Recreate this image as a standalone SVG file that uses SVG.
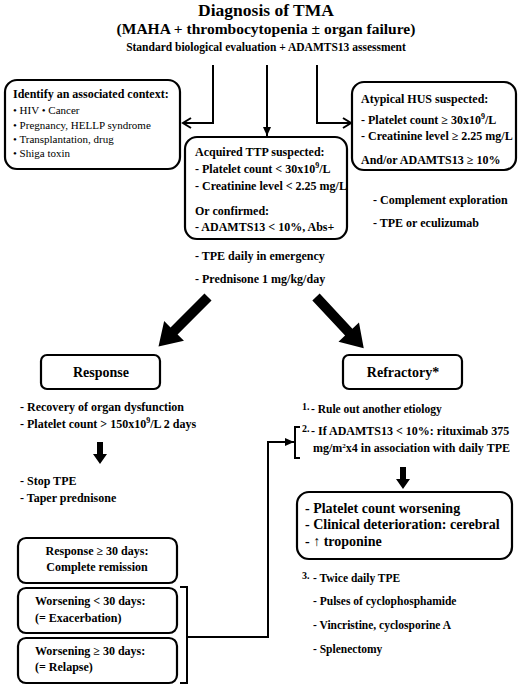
<svg xmlns="http://www.w3.org/2000/svg" width="520" height="686" viewBox="0 0 520 686">
<style>
text{font-family:"Liberation Serif","Times New Roman",serif;font-weight:bold;fill:#000}
.box{fill:#fff;stroke:#000;stroke-width:2.2}
.ln{fill:none;stroke:#000;stroke-width:2}
.t12{font-size:12px}
.t11{font-size:11px}
.t115{font-size:11.5px}
.t14{font-size:14px}
.c{text-anchor:middle}
.sm{font-size:10px}
.reg{font-weight:normal}
</style>
<defs>
<marker id="open" markerWidth="12" markerHeight="12" refX="10" refY="6" orient="auto" markerUnits="userSpaceOnUse">
<path d="M2,1 L10,6 L2,11" fill="none" stroke="#000" stroke-width="2"/>
</marker>
<marker id="solid" markerWidth="10" markerHeight="10" refX="9" refY="5" orient="auto" markerUnits="userSpaceOnUse">
<path d="M0,1 L9,5 L0,9 Z" fill="#000"/>
</marker>
<polygon id="bigarrow" points="0,-5 48,-5 48,-14 70,0 48,14 48,5 0,5" fill="#000"/>
<polygon id="downarrow" points="-3,0 3,0 3,12 7,12 0,22 -7,12 -3,12" fill="#000"/>
</defs>

<g id="title">
<text x="266" y="16" class="c" font-size="17.5">Diagnosis of TMA</text>
<text x="266" y="34" class="c" font-size="15.5">(MAHA + thrombocytopenia  ± organ failure)</text>
<text x="266" y="51" class="c t115">Standard  biological  evaluation  + ADAMTS13 assessment</text>
</g>

<g id="connectors">
<path class="ln" d="M213,65 V123 H183" marker-end="url(#open)"/>
<path class="ln" d="M267,65 V136" marker-end="url(#solid)"/>
<path class="ln" d="M317,65 V123 H351" marker-end="url(#open)"/>
<use href="#bigarrow" transform="translate(208,297) rotate(135)"/>
<use href="#bigarrow" transform="translate(316,297) rotate(47)"/>
<use href="#downarrow" transform="translate(100,442)"/>
<use href="#downarrow" transform="translate(403,467)"/>
<path class="ln" d="M180,587 H187 V683 H180"/>
<path class="ln" d="M187,637 H268 V442 H294" marker-end="url(#solid)"/>
<path class="ln" d="M300,427 H295 V458 H300"/>
</g>

<g id="context">
<rect class="box" x="5" y="80" width="175" height="89" rx="12"/>
<text x="13" y="98" class="t12">Identify  an  associated  context:</text>
<text x="13" y="114" class="t11 reg">• HIV   • Cancer</text>
<text x="13" y="129" class="t11 reg">• Pregnancy,  HELLP  syndrome</text>
<text x="13" y="143" class="t11 reg">• Transplantation,  drug</text>
<text x="13" y="157" class="t11 reg">• Shiga  toxin</text>
</g>

<g id="ttp">
<rect class="box" x="185" y="137" width="162" height="102" rx="12"/>
<text x="195" y="156" class="t12">Acquired  TTP  suspected:</text>
<text x="195" y="173" class="t12">- Platelet  count  &lt; 30x10<tspan font-size="8" dy="-5">9</tspan><tspan dy="5">/L</tspan></text>
<text x="195" y="190" class="t12">- Creatinine  level &lt; 2.25 mg/L</text>
<text x="195" y="215" class="t12">Or  confirmed:</text>
<text x="195" y="231" class="t12">- ADAMTS13  &lt; 10%, Abs+</text>
</g>

<g id="ttp-treatment">
<text x="195" y="260" class="t12">- TPE  daily  in  emergency</text>
<text x="195" y="283" class="t12">- Prednisone  1 mg/kg/day</text>
</g>

<g id="ahus">
<rect class="box" x="352" y="82" width="164" height="88" rx="12"/>
<text x="361" y="103" class="t12">Atypical  HUS  suspected:</text>
<text x="361" y="124" class="t12">- Platelet  count ≥ 30x10<tspan font-size="8" dy="-5">9</tspan><tspan dy="5">/L</tspan></text>
<text x="361" y="140" class="t12">- Creatinine  level ≥ 2.25 mg/L</text>
<text x="361" y="164" class="t12">And/or  ADAMTS13 ≥ 10%</text>
</g>

<g id="ahus-treatment">
<text x="373" y="204" class="t12">- Complement  exploration</text>
<text x="373" y="227" class="t12">- TPE  or  eculizumab</text>
</g>

<g id="response">
<rect class="box" x="41" y="355" width="119" height="34" rx="6"/>
<text x="101" y="377" class="c t14">Response</text>
</g>

<g id="refractory">
<rect class="box" x="343" y="355" width="119" height="34" rx="6"/>
<text x="403" y="377" class="c t14">Refractory*</text>
</g>

<g id="response-criteria">
<text x="20" y="411" class="t12">- Recovery of organ  dysfunction</text>
<text x="20" y="428" class="t12">- Platelet count  &gt; 150x10<tspan font-size="8" dy="-5">9</tspan><tspan dy="5">/L 2 days</tspan></text>
</g>

<g id="response-treatment">
<text x="20" y="485" class="t12">- Stop  TPE</text>
<text x="20" y="502" class="t12">- Taper  prednisone</text>
</g>

<g id="refractory-steps">
<text x="302" y="410" class="sm">1.</text>
<text x="311" y="413" class="t115">- Rule  out  another  etiology</text>
<text x="302" y="432" class="sm">2.</text>
<text x="311" y="435" class="t12">- If ADAMTS13 &lt; 10%:  rituximab  375</text>
<text x="313" y="452" class="t12">mg/m<tspan font-size="7" dy="-4">2</tspan><tspan dy="4">x4  in  association  with  daily  TPE</tspan></text>
</g>

<g id="worsening">
<rect class="box" x="297" y="492" width="215" height="67" rx="12"/>
<text x="305" y="513" font-size="14">- Platelet count worsening</text>
<text x="305" y="529" font-size="14">- Clinical deterioration: cerebral</text>
<text x="305" y="546" font-size="14">- ↑ troponine</text>
</g>

<g id="step3">
<text x="302" y="579" class="sm">3.</text>
<text x="313" y="582" class="t115">- Twice  daily  TPE</text>
<text x="313" y="605" class="t115">- Pulses of cyclophosphamide</text>
<text x="313" y="629" class="t115">- Vincristine,  cyclosporine  A</text>
<text x="313" y="653" class="t115">- Splenectomy</text>
</g>

<g id="remission">
<rect class="box" x="18" y="538" width="159" height="45" rx="8"/>
<text x="97" y="555" class="c t12">Response ≥ 30 days:</text>
<text x="97" y="571" class="c t12">Complete remission</text>
</g>

<g id="exacerbation">
<rect class="box" x="18" y="588" width="159" height="45" rx="8"/>
<text x="35" y="605" class="t12">Worsening &lt; 30 days:</text>
<text x="35" y="622" class="t12">(= Exacerbation)</text>
</g>

<g id="relapse">
<rect class="box" x="18" y="638" width="159" height="45" rx="8"/>
<text x="35" y="655" class="t12">Worsening ≥ 30 days:</text>
<text x="35" y="671" class="t12">(= Relapse)</text>
</g>
</svg>
